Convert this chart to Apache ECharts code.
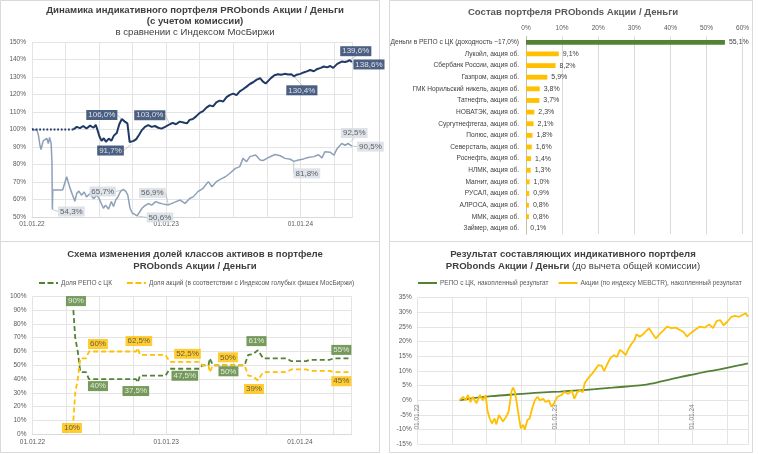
<!DOCTYPE html>
<html><head><meta charset="utf-8">
<script src="https://cdn.jsdelivr.net/npm/echarts@6/dist/echarts.min.js"></script>
<style>html,body{margin:0;padding:0;background:#fff}#c{width:758px;height:454px}</style>
</head><body><div id="c"></div>
<script>
// ================= DATA =================
// Panel 1: indicative portfolio vs MOEX index (%, start = 100)
const portfolioPre = [['2022-01-01',100],['2022-04-22',100]];
const portfolio = [
['2022-04-22',100.0],['2022-05-01',101.5],['2022-05-10',100.8],['2022-05-19',102.0],['2022-05-28',100.6],
['2022-06-07',102.2],['2022-06-16',101.0],['2022-06-22',102.6],['2022-06-26',100.2],['2022-07-02',96.0],
['2022-07-08',93.5],['2022-07-14',95.0],['2022-07-20',93.0],['2022-07-28',94.8],['2022-08-04',93.5],
['2022-08-11',96.5],['2022-08-19',98.0],['2022-08-26',103.0],['2022-09-02',106.0],['2022-09-10',104.5],
['2022-09-17',103.5],['2022-09-23',92.8],['2022-09-28',91.7],['2022-10-04',93.5],['2022-10-11',94.5],
['2022-10-19',97.0],['2022-10-26',99.5],['2022-11-04',101.5],['2022-11-13',102.5],['2022-11-22',101.5],
['2022-12-01',102.0],['2022-12-10',101.0],['2022-12-19',100.5],['2022-12-29',101.5],['2023-01-11',103.0],
['2023-01-19',103.8],['2023-01-28',103.0],['2023-02-07',104.5],['2023-02-16',104.0],['2023-02-25',103.5],
['2023-03-04',105.5],['2023-03-13',106.0],['2023-03-22',107.5],['2023-04-01',109.5],['2023-04-10',110.5],
['2023-04-19',112.5],['2023-04-28',113.8],['2023-05-07',113.2],['2023-05-16',115.5],['2023-05-25',116.5],
['2023-06-04',116.0],['2023-06-13',118.5],['2023-06-22',119.8],['2023-07-01',120.5],['2023-07-10',119.6],
['2023-07-19',121.8],['2023-07-28',123.0],['2023-08-07',124.5],['2023-08-16',126.0],['2023-08-25',127.0],
['2023-09-04',128.5],['2023-09-13',129.3],['2023-09-20',127.5],['2023-09-28',126.3],['2023-10-05',127.8],
['2023-10-13',129.5],['2023-10-22',131.0],['2023-11-01',131.6],['2023-11-10',131.3],['2023-11-19',131.8],
['2023-11-28',131.4],['2023-12-07',131.6],['2023-12-14',130.4],['2023-12-22',131.3],['2024-01-01',131.8],
['2024-01-10',132.6],['2024-01-19',133.2],['2024-01-28',134.0],['2024-02-07',133.3],['2024-02-16',134.6],
['2024-02-25',135.2],['2024-03-04',136.0],['2024-03-13',135.5],['2024-03-22',136.3],['2024-03-30',135.2],
['2024-04-10',137.5],['2024-04-22',138.8],['2024-05-01',138.6],['2024-05-08',139.0],['2024-05-14',139.6],
['2024-05-20',138.6]
];
const moex = [
['2022-01-01',100.7],['2022-01-08',99.5],['2022-01-14',100.2],['2022-01-19',96.5],['2022-01-23',91.0],
['2022-01-26',88.5],['2022-02-01',93.5],['2022-02-05',92.5],['2022-02-10',95.0],['2022-02-14',92.0],
['2022-02-17',95.5],['2022-02-21',92.0],['2022-02-23',81.0],['2022-02-24',54.3],['2022-02-25',65.4],
['2022-03-24',65.4],['2022-03-29',66.0],['2022-04-04',73.0],['2022-04-08',70.0],['2022-04-13',66.5],
['2022-04-19',63.0],['2022-04-26',59.0],['2022-05-01',63.5],['2022-05-07',64.8],['2022-05-14',62.5],
['2022-05-22',64.3],['2022-05-28',61.5],['2022-06-07',63.4],['2022-06-16',60.5],['2022-06-25',62.5],
['2022-07-01',60.5],['2022-07-07',57.7],['2022-07-13',55.0],['2022-07-19',56.8],['2022-07-27',54.5],
['2022-08-04',58.8],['2022-08-10',56.0],['2022-08-16',59.7],['2022-08-22',61.5],['2022-08-30',64.8],
['2022-09-07',65.7],['2022-09-13',64.5],['2022-09-18',62.5],['2022-09-24',55.0],['2022-09-30',52.3],
['2022-10-07',51.5],['2022-10-13',50.6],['2022-10-21',53.0],['2022-10-27',55.0],['2022-11-04',56.5],
['2022-11-13',57.7],['2022-11-22',56.8],['2022-12-03',58.8],['2022-12-13',58.0],['2022-12-22',57.5],
['2023-01-07',56.9],['2023-01-12',57.8],['2023-01-25',58.5],['2023-02-08',59.7],['2023-02-20',57.8],
['2023-03-05',60.7],['2023-03-14',61.5],['2023-03-27',64.5],['2023-04-10',66.4],['2023-04-24',70.2],
['2023-05-04',67.3],['2023-05-16',70.2],['2023-06-01',72.1],['2023-06-10',73.0],['2023-06-22',75.0],
['2023-07-07',77.8],['2023-07-19',78.8],['2023-07-28',83.5],['2023-08-07',81.6],['2023-08-16',84.5],
['2023-09-01',85.4],['2023-09-05',86.4],['2023-09-13',82.6],['2023-09-22',82.3],['2023-10-01',83.5],
['2023-10-16',85.0],['2023-10-24',85.7],['2023-11-07',85.0],['2023-11-20',83.5],['2023-12-04',83.0],
['2023-12-14',81.8],['2023-12-27',82.6],['2024-01-10',83.2],['2024-01-22',84.0],['2024-02-07',84.5],
['2024-02-19',85.6],['2024-02-28',83.8],['2024-03-07',87.3],['2024-03-22',87.0],['2024-04-01',85.4],
['2024-04-10',89.2],['2024-04-22',92.0],['2024-05-01',91.0],['2024-05-09',92.0],['2024-05-14',92.5],
['2024-05-20',90.5]
];
const portfolioLabelDates = ['2022-09-02','2022-09-28','2023-01-11','2023-12-14','2024-05-14','2024-05-20'];
const moexLabelDates = ['2022-02-24','2022-09-07','2022-10-13','2023-01-07','2023-12-14','2024-05-14','2024-05-20'];

// Panel 2: portfolio composition (%)
const holdings = ['Деньги в РЕПО с ЦК (доходность ~17,0%)','Лукойл, акция об.','Сбербанк России, акция об.',
'Газпром, акция об.','ГМК Норильский никель, акция об.','Татнефть, акция об.','НОВАТЭК, акция об.',
'Сургутнефтегаз, акция об.','Полюс, акция об.','Северсталь, акция об.','Роснефть, акция об.','НЛМК, акция об.',
'Магнит, акция об.','РУСАЛ, акция об.','АЛРОСА, акция об.','ММК, акция об.','Займер, акция об.'];
const weights = [55.1,9.1,8.2,5.9,3.8,3.7,2.3,2.1,1.8,1.6,1.4,1.3,1.0,0.9,0.8,0.8,0.1];
const xTicks2 = [0,10,20,30,40,50,60];

// Panel 3: asset-class shares (%)
const repoShare = [
['2022-04-21',90],['2022-04-26',70],['2022-04-30',70],['2022-05-03',60],['2022-05-06',60],['2022-05-10',45],
['2022-05-26',45],['2022-06-03',40],['2022-10-10',40],['2022-10-15',37.5],['2022-10-21',42.5],['2022-12-30',42.5],
['2023-01-11',47.5],['2023-04-01',47.5],['2023-04-08',50],['2023-04-25',50],['2023-04-28',55],['2023-05-02',55],
['2023-05-07',50],['2023-08-02',50],['2023-08-12',57.5],['2023-08-25',58],['2023-09-08',61],['2023-09-22',55],
['2023-11-25',55],['2023-12-08',53],['2024-01-19',53],['2024-01-28',54],['2024-03-22',54],['2024-04-01',55],
['2024-05-20',55]
];
const equityShare = [
['2022-04-21',10],['2022-04-26',30],['2022-04-30',30],['2022-05-03',40],['2022-05-06',40],['2022-05-10',55],
['2022-05-26',55],['2022-06-03',60],['2022-10-10',60],['2022-10-15',62.5],['2022-10-21',57.5],['2022-12-30',57.5],
['2023-01-11',52.5],['2023-04-01',52.5],['2023-04-08',50],['2023-04-25',50],['2023-04-28',45],['2023-05-02',45],
['2023-05-07',50],['2023-08-02',50],['2023-08-12',42.5],['2023-08-25',42],['2023-09-08',39],['2023-09-22',45],
['2023-11-25',45],['2023-12-08',47],['2024-01-19',47],['2024-01-28',46],['2024-03-22',46],['2024-04-01',45],
['2024-05-20',45]
];
const shareLabelDates = ['2022-04-21','2022-06-03','2022-10-15','2023-01-11','2023-05-07','2023-09-08','2024-05-20'];

// Panel 4: cumulative results (%)
const repoResult = [
['2022-04-21',0.0],['2022-06-01',0.8],['2022-07-15',1.4],['2022-09-01',1.9],['2022-10-15',2.3],['2022-12-01',2.7],
['2023-01-15',3.0],['2023-03-01',3.4],['2023-04-15',3.8],['2023-06-01',4.3],['2023-07-15',4.8],['2023-08-25',5.3],
['2023-10-01',6.2],['2023-11-01',7.1],['2023-12-01',8.0],['2024-01-01',8.8],['2024-02-01',9.6],['2024-03-01',10.3],
['2024-04-01',11.1],['2024-05-01',11.9],['2024-05-27',12.6]
];
const equityResult = [
['2022-04-21',0.1],['2022-04-30',1.2],['2022-05-07',0.0],['2022-05-13',1.8],['2022-05-20',-0.6],['2022-05-26',1.2],
['2022-06-05',-1.0],['2022-06-14',1.8],['2022-06-22',0.0],['2022-06-29',1.8],['2022-07-04',-3.6],['2022-07-10',-6.2],
['2022-07-16',-7.9],['2022-07-23',-6.2],['2022-07-28',-8.2],['2022-08-04',-5.0],['2022-08-09',-4.4],['2022-08-15',-7.2],
['2022-08-24',-5.5],['2022-08-30',-3.9],['2022-09-07',3.2],['2022-09-11',4.3],['2022-09-16',2.8],['2022-09-21',2.6],
['2022-09-26',-5.6],['2022-10-01',-9.6],['2022-10-07',-8.4],['2022-10-12',-10.0],['2022-10-19',-6.7],['2022-10-25',-6.2],
['2022-11-01',-2.7],['2022-11-08',0.0],['2022-11-15',1.2],['2022-11-21',0.0],['2022-11-30',0.5],['2022-12-06',-0.6],
['2022-12-15',0.0],['2022-12-22',-2.2],['2022-12-29',-1.0],['2023-01-07',1.2],['2023-01-18',1.8],['2023-01-26',2.9],
['2023-02-05',2.2],['2023-02-14',3.3],['2023-02-20',0.5],['2023-02-27',2.8],['2023-03-06',3.3],['2023-03-14',2.8],
['2023-03-19',5.8],['2023-03-28',7.5],['2023-04-07',8.9],['2023-04-15',10.3],['2023-04-24',12.0],['2023-05-03',11.8],
['2023-05-10',10.0],['2023-05-17',12.0],['2023-05-26',14.3],['2023-06-05',15.4],['2023-06-13',14.8],['2023-06-21',17.2],
['2023-06-28',16.5],['2023-07-06',15.4],['2023-07-12',17.2],['2023-07-21',19.1],['2023-07-30',20.6],['2023-08-04',22.5],
['2023-08-13',21.7],['2023-08-22',22.5],['2023-08-29',23.4],['2023-09-07',24.6],['2023-09-16',22.8],['2023-09-25',21.1],
['2023-10-04',22.5],['2023-10-14',23.7],['2023-10-25',25.1],['2023-11-06',24.6],['2023-11-17',24.8],['2023-11-28',24.0],
['2023-12-07',23.4],['2023-12-17',21.7],['2023-12-26',22.8],['2024-01-07',24.0],['2024-01-20',25.1],['2024-02-03',24.8],
['2024-02-14',25.9],['2024-02-24',24.6],['2024-03-04',27.0],['2024-03-14',27.4],['2024-03-23',25.6],['2024-04-02',26.8],
['2024-04-13',28.5],['2024-04-22',28.8],['2024-05-03',28.5],['2024-05-12',29.1],['2024-05-21',29.7],['2024-05-27',28.5]
];
const axisStart = '2022-01-01';
const axisEnd134 = '2024-05-21';
const axisEnd4 = '2024-05-28';

// ================= HELPERS =================
const FONT = "'Liberation Sans', Arial, sans-serif";
const NARROW = "'Liberation Sans Narrow', 'Liberation Sans', Arial, sans-serif";
function mi(d){ const p=d.split('-').map(Number); const dim=new Date(Date.UTC(p[0],p[1],0)).getUTCDate();
  const s=axisStart.split('-').map(Number);
  return (p[0]-s[0])*12+(p[1]-s[1])+(p[2]-1)/dim; }
const toXY = arr => arr.map(([d,v]) => [mi(d), v]);
const pick = (arr, dates) => dates.map(d => { const p = arr.find(x => x[0]===d); return [mi(p[0]), p[1]]; });
const pct1 = v => v.toFixed(1).replace('.', ',') + '%';
const pctS = v => (Number.isInteger(v) ? String(v) : v.toFixed(1).replace('.', ',')) + '%';
const yearLabel = v => { const r = Math.round(v); if (Math.abs(v-r) < 1e-6 && r % 12 === 0 && r >= 0) return '01.01.' + (22 + r/12); return ''; };
const GRID = '#E4E4E4';
const AX = '#595959';
const DASH_ICON = 'path://M0,0h6v2h-6z M8.5,0h6v2h-6z M17,0h2v2h-2z';
const LINE_ICON = 'path://M0,0h19v2h-19z';

function timeAxis(gi, endDate, extra){
  return Object.assign({
    gridIndex: gi, type: 'value', min: 0, max: mi(endDate), interval: 3,
    axisLabel: { formatter: yearLabel, fontSize: 6.5, color: AX, fontFamily: FONT, margin: 4, showMinLabel: true, showMaxLabel: true },
    axisTick: { show: false },
    axisLine: { show: true, onZero: false, lineStyle: { color: '#D9D9D9', width: 1 } },
    splitLine: { show: true, lineStyle: { color: GRID, width: 1 } }
  }, extra || {});
}
function pctAxis(gi, min, max, step){
  return { gridIndex: gi, type: 'value', min: min, max: max, interval: step,
    axisLabel: { formatter: '{value}%', fontSize: 6.5, color: AX, fontFamily: FONT, margin: 6 },
    axisTick: { show: false }, axisLine: { show: false },
    splitLine: { show: true, lineStyle: { color: GRID, width: 1 } } };
}
function labelSeries(name, xi, yi, pts, offs, bg, fg, fmt, withLine){
  return {
    name: name, type: 'scatter', xAxisIndex: xi, yAxisIndex: yi, data: pts,
    symbol: 'circle', symbolSize: 1, itemStyle: { color: 'rgba(0,0,0,0)' }, z: 10,
    silent: true,
    label: { show: true, position: 'inside', formatter: p => fmt(p.value[1]),
      fontSize: 8, fontFamily: FONT, color: fg, backgroundColor: bg, padding: [1.5, 2, 0.5, 2] },
    labelLayout: p => ({ dx: offs[p.dataIndex][0], dy: offs[p.dataIndex][1] }),
    labelLine: { show: !!withLine, lineStyle: { color: '#A6A6A6', width: 0.6 } }
  };
}

// ================= CHART =================
const chart = echarts.init(document.getElementById('c'), null, { renderer: 'canvas' });

const title = (x, y, text, bold, color) => ({ type: 'text', x: x, y: y, silent: true,
  style: { text: text, font: (bold ? 'bold ' : '') + '9.6px ' + FONT, fill: color || '#404040', align: 'center', verticalAlign: 'middle' } });
const box = (x, y, w, h) => ({ type: 'rect', silent: true, z: -1, shape: { x: x, y: y, width: w, height: h },
  style: { fill: 'none', stroke: '#D9D9D9', lineWidth: 1 } });
const legendCommon = { itemWidth: 19, itemHeight: 2, selectedMode: false, padding: 0,
  itemStyle: { borderWidth: 0 }, lineStyle: { width: 0 },
  textStyle: { fontSize: 6.5, color: AX, fontFamily: FONT, padding: [0, 0, 0, -2] } };

const option = {
  animation: false,
  backgroundColor: '#fff',
  textStyle: { fontFamily: FONT },
  graphic: [
    box(0.5, 0.5, 379, 241), box(389.5, 0.5, 363, 241), box(0.5, 241.5, 379, 211), box(389.5, 241.5, 363, 211),
    title(195, 10.5, 'Динамика индикативного портфеля PRObonds Акции / Деньги', true),
    title(195, 21.5, '(с учетом комиссии)', true),
    title(195, 32.5, 'в сравнении с Индексом МосБиржи', false),
    title(573, 12.5, 'Состав портфеля PRObonds Акции / Деньги', true, '#595959'),
    title(195, 254.5, 'Схема изменения долей классов активов в портфеле', true),
    title(195, 266, 'PRObonds Акции / Деньги', true),
    title(573, 254.5, 'Результат составляющих индикативного портфеля', true),
    { type: 'text', x: 573, y: 266.5, silent: true,
      style: { text: '{b|PRObonds Акции / Деньги} {n|(до вычета общей комиссии)}', align: 'center', verticalAlign: 'middle',
        fill: '#404040', font: '9.6px ' + FONT,
        rich: { b: { fontWeight: 'bold', fontSize: 9.6, fontFamily: FONT, fill: '#404040' }, n: { fontWeight: 'normal', fontSize: 9.6, fontFamily: FONT, fill: '#404040' } } } }
  ],
  legend: [
    Object.assign({}, legendCommon, {
      data: [{ name: 'Доля РЕПО с ЦК', icon: DASH_ICON },
             { name: 'Доля акций (в соответствии с Индексом голубых фишек МосБиржи)', icon: DASH_ICON }],
      left: 39, top: 279.5, itemGap: 15 }),
    Object.assign({}, legendCommon, {
      data: [{ name: 'РЕПО с ЦК, накопленный результат', icon: LINE_ICON },
             { name: 'Акции (по индексу MEBCTR), накопленный результат', icon: LINE_ICON }],
      left: 418, top: 279.5, itemGap: 10 })
  ],
  grid: [
    { left: 32, top: 42, width: 320.3, height: 175, outerBoundsMode: 'none', containLabel: false },
    { left: 526, top: 36.5, width: 216.6, height: 197.7, outerBoundsMode: 'none', containLabel: false },
    { left: 32.5, top: 296.3, width: 319.2, height: 138, outerBoundsMode: 'none', containLabel: false },
    { left: 417.7, top: 297.7, width: 330.6, height: 146.6, outerBoundsMode: 'none', containLabel: false }
  ],
  xAxis: [
    timeAxis(0, axisEnd134),
    { gridIndex: 1, type: 'value', position: 'top', min: xTicks2[0], max: xTicks2[xTicks2.length-1], interval: xTicks2[1]-xTicks2[0],
      axisLabel: { formatter: '{value}%', fontSize: 6.5, color: AX, fontFamily: FONT, margin: 5 },
      axisTick: { show: false }, axisLine: { show: false },
      splitLine: { show: true, lineStyle: { color: '#D9D9D9', width: 1 } } },
    timeAxis(2, axisEnd134),
    timeAxis(3, axisEnd4, {
      axisLine: { show: false, onZero: false },
      axisLabel: { formatter: yearLabel, fontSize: 6.5, color: '#808080', fontFamily: FONT, margin: -40, rotate: 90 } })
  ],
  yAxis: [
    pctAxis(0, 50, 150, 10),
    { gridIndex: 1, type: 'category', inverse: true, data: holdings,
      axisLabel: { fontSize: 6.6, color: '#404040', fontFamily: NARROW, margin: 7, interval: 0 },
      axisTick: { show: false }, axisLine: { show: true, lineStyle: { color: '#BFBFBF' } }, splitLine: { show: false } },
    pctAxis(2, 0, 100, 10),
    pctAxis(3, -15, 35, 5)
  ],
  series: [
    // ---- panel 1
    { name: 'MOEX', type: 'line', xAxisIndex: 0, yAxisIndex: 0, data: toXY(moex), symbol: 'none',
      lineStyle: { color: '#8EA0B9', width: 1.5 }, z: 2 },
    { name: 'pre', type: 'line', xAxisIndex: 0, yAxisIndex: 0, data: toXY(portfolioPre), symbol: 'none',
      lineStyle: { color: '#1F3864', width: 1.8, type: [1.8, 1.8] }, z: 3 },
    { name: 'Портфель', type: 'line', xAxisIndex: 0, yAxisIndex: 0, data: toXY(portfolio), symbol: 'none',
      lineStyle: { color: '#1F3864', width: 2 }, z: 3 },
    labelSeries('lblP', 0, 0, pick(portfolio, portfolioLabelDates),
      [[-20,-4],[-21,6.5],[-20,-9],[8,14],[6,-9],[17,2.5]], '#1F3864', '#fff', pct1, true),
    labelSeries('lblM', 0, 0, pick(moex, moexLabelDates),
      [[19,2],[-21,2],[23,1.5],[-16,-12],[13,12],[4.5,-9.6],[18.5,0.5]], '#D6DCE4', '#404040', pct1, true),
    // ---- panel 2
    { name: 'Состав', type: 'bar', xAxisIndex: 1, yAxisIndex: 1, barWidth: 4.8,
      data: weights.map((v, i) => ({ value: v, itemStyle: { color: i === 0 ? '#548235' : '#FFC000' } })),
      label: { show: true, position: 'right', distance: 4, formatter: p => pct1(p.value), fontSize: 7, color: '#404040',
        fontFamily: NARROW } },
    // ---- panel 3
    { name: 'Доля РЕПО с ЦК', type: 'line', xAxisIndex: 2, yAxisIndex: 2, data: toXY(repoShare), symbol: 'none',
      lineStyle: { color: '#548235', width: 1.8, type: [5, 3] }, itemStyle: { color: '#548235' } },
    { name: 'Доля акций (в соответствии с Индексом голубых фишек МосБиржи)', type: 'line', xAxisIndex: 2, yAxisIndex: 2,
      data: toXY(equityShare), symbol: 'none',
      lineStyle: { color: '#FFC000', width: 1.8, type: [5, 3] }, itemStyle: { color: '#FFC000' } },
    labelSeries('lblR', 2, 2, pick(repoShare, shareLabelDates),
      [[2.6,-9],[9,7],[-2,8.5],[15,7],[15.5,6],[-1.5,-9],[-10,-8.5]], '#548235', '#fff', pctS, false),
    labelSeries('lblE', 2, 2, pick(equityShare, shareLabelDates),
      [[-1.4,7.5],[9,-7.5],[1,-7],[17.7,-8],[15,-8],[-4,8.5],[-10,9]], '#FFC000', '#404040', pctS, false),
    // ---- panel 4
    { name: 'РЕПО с ЦК, накопленный результат', type: 'line', xAxisIndex: 3, yAxisIndex: 3, data: toXY(repoResult),
      symbol: 'none', smooth: 0.3, lineStyle: { color: '#548235', width: 1.8 }, itemStyle: { color: '#548235' }, z: 2 },
    { name: 'Акции (по индексу MEBCTR), накопленный результат', type: 'line', xAxisIndex: 3, yAxisIndex: 3,
      data: toXY(equityResult), symbol: 'none', lineStyle: { color: '#FFC000', width: 1.8 }, itemStyle: { color: '#FFC000' }, z: 3 }
  ]
};
chart.setOption(option);
</script>
</body></html>
